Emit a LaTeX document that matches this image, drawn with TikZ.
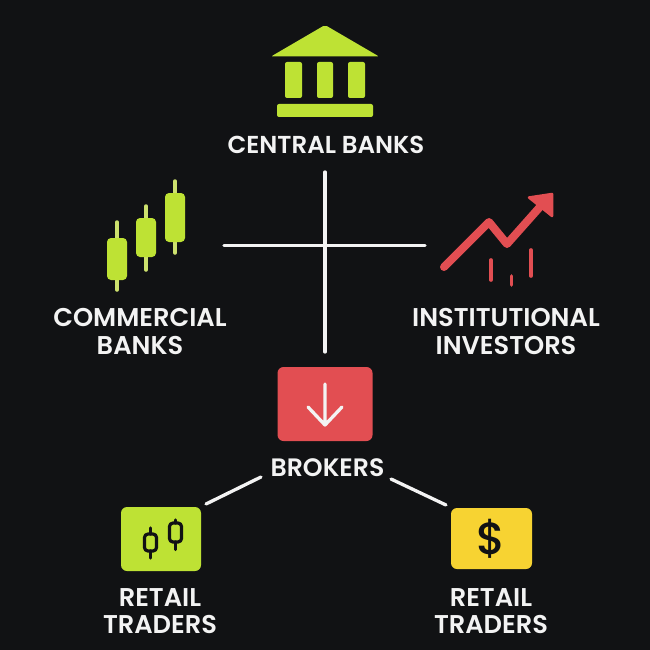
\documentclass[tikz,border=0pt]{standalone}
\usepackage{fontspec}
\setmainfont{Poppins}[BoldFont={* SemiBold}]
\newfontfamily\dollarfont{Poppins}[UprightFont={* Medium}]
\usepackage{tikz}
\definecolor{darkbg}{RGB}{17,18,20}
\definecolor{mylime}{RGB}{190,226,52}
\definecolor{mypale}{RGB}{205,225,110}
\definecolor{myred}{RGB}{226,78,82}
\definecolor{myyellow}{RGB}{247,211,50}
\definecolor{mywhite}{RGB}{243,243,243}
\newcommand{\widthbar}{3.5}
\tikzset{
    label/.style={align=center, text=mywhite, inner sep=0pt, font=\fontsize{24.5}{27.5}\selectfont\bfseries},
    widelabel/.style={label, font=\fontsize{25.7}{27.5}\selectfont\bfseries},
    link/.style={draw=mywhite, line width=3.3pt, line cap=round},
    lime/.style={fill=mylime, rounded corners=2pt},
    wick/.style={draw=mypale, line width=\widthbar pt, line cap=round},
    redline/.style={draw=myred, line cap=round, line join=round},
    inkline/.style={draw=darkbg, line cap=round, line join=round, line width=3.2pt},
    tile/.style={rounded corners=6pt, inner sep=0pt, draw=none}
}
% one candle: x, top of wick, top of body, bottom of body, bottom of wick
\newcommand{\candle}[5]{
    \draw[wick] (#1,#2) -- (#1,#5);
    \fill[lime, rounded corners=4pt] (#1-10,#3) rectangle (#1+10,#4);
}
\newcommand{\inkcandle}[5]{
    \draw[inkline] (#1,#2) -- (#1,#3) (#1,#4) -- (#1,#5);
    \draw[inkline, rounded corners=3.5pt] (#1-6,#3) rectangle (#1+6,#4);
}

\begin{document}
\begin{tikzpicture}[x=1pt,y=-1pt]
    \fill[darkbg] (0,0) rectangle (650,650);
    \useasboundingbox (0,0) rectangle (650,650);

    % central banks
    \fill[lime] (325,25) -- (379,56.5) -- (271,56.5) -- cycle;
    \fill[lime] (285,62) rectangle (302,98);
    \fill[lime] (317,62) rectangle (333,98);
    \fill[lime] (348,62) rectangle (365,98);
    \fill[lime] (277,104) rectangle (373,117);
    \node[label] (central) at (326,145) {CENTRAL BANKS};

    % commercial banks
    \candle{117}{222}{238}{280}{290}
    \candle{146}{206}{218}{257}{270}
    \candle{175}{181}{193}{242}{253}
    \node[widelabel] (commercial) at (140,331.5) {COMMERCIAL\\BANKS};

    % institutional investors
    \draw[redline, line width=8pt] (444,267) -- (489,222) -- (507,244) -- (547,199);
    \fill[myred, draw=myred, line width=2.5pt, line join=round] (529,197.5) -- (552,194) -- (552,216) -- cycle;
    \draw[redline, line width=3.6pt] (491,260) -- (491,280) (511.5,276) -- (511.5,285) (531,250) -- (531,276);
    \node[widelabel] (institutional) at (506,331.5) {INSTITUTIONAL\\INVESTORS};

    % brokers
    \node[tile, fill=myred, minimum width=95pt, minimum height=74pt] (brokerbox) at (325,404) {};
    \draw[mywhite, line width=3.3pt, line cap=round, line join=round]
        (325,384) -- (325,425) (308,407) -- (325,425) -- (342,407);
    \node[label, font=\fontsize{25.2}{27.5}\selectfont\bfseries] (brokers) at (327.5,468) {BROKERS};

    % retail, left
    \node[tile, fill=mylime, minimum width=80pt, minimum height=64pt] (retailA) at (161,539) {};
    \inkcandle{150.5}{528}{534}{551}{558}
    \inkcandle{175.5}{520}{523}{542}{549.5}
    \node[widelabel] (traderA) at (160,611) {RETAIL\\TRADERS};

    % retail, right
    \node[tile, fill=myyellow, minimum width=81pt, minimum height=61pt] (retailB) at (491.5,538.5) {};
    \node[text=darkbg, inner sep=0pt, font=\fontsize{45}{45}\selectfont\dollarfont] (dollar) at (491.5,538.5) {\$};
    \node[widelabel] (traderB) at (491,611) {RETAIL\\TRADERS};

    % connectors
    \coordinate (crossT) at (325,172);
    \coordinate (crossB) at (325,352);
    \coordinate (crossL) at (224,245.5);
    \coordinate (crossR) at (425,245.5);
    \coordinate (brokerL) at (261,477);
    \coordinate (brokerR) at (391,479);
    \coordinate (retailL) at (206,504);
    \coordinate (retailR) at (446,505);
    \draw[link] (crossT) -- (crossB) (crossL) -- (crossR);
    \draw[link] (brokerL) -- (retailL) (brokerR) -- (retailR);
\end{tikzpicture}
\end{document}
